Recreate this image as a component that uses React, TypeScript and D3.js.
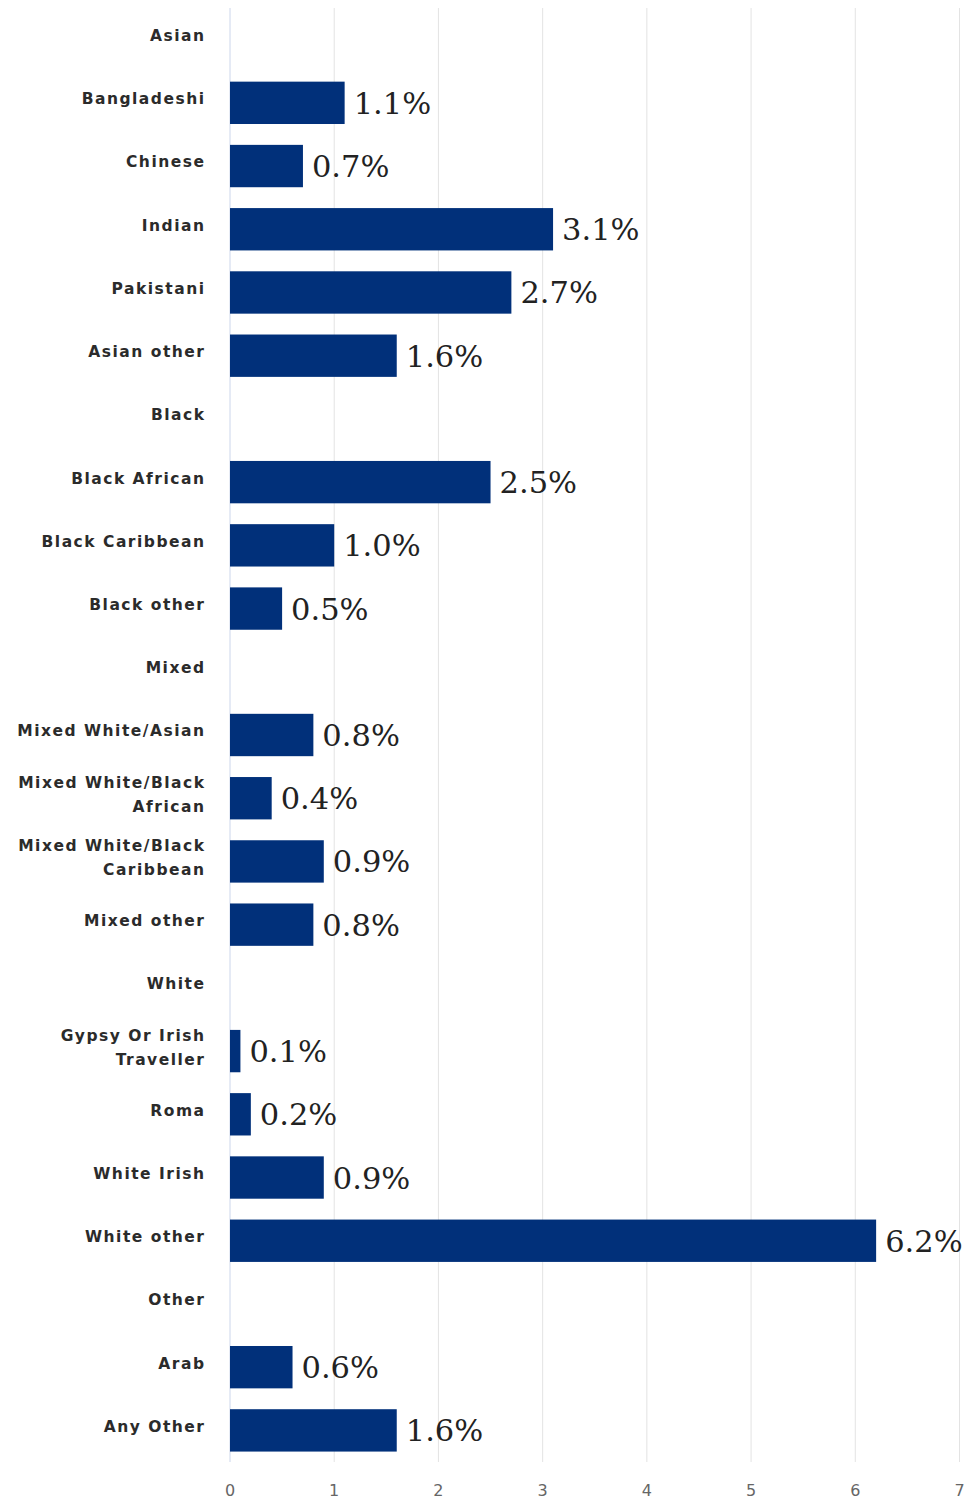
import React from "react";
import * as d3 from "d3";

const categories: string[] = [
  "Asian", "Bangladeshi", "Chinese", "Indian", "Pakistani", "Asian other",
  "Black", "Black African", "Black Caribbean", "Black other",
  "Mixed", "Mixed White/Asian", "Mixed White/Black African", "Mixed White/Black Caribbean", "Mixed other",
  "White", "Gypsy Or Irish Traveller", "Roma", "White Irish", "White other",
  "Other", "Arab", "Any Other",
];
const values: (number | null)[] = [
  null, 1.1, 0.7, 3.1, 2.7, 1.6,
  null, 2.5, 1.0, 0.5,
  null, 0.8, 0.4, 0.9, 0.8,
  null, 0.1, 0.2, 0.9, 6.2,
  null, 0.6, 1.6,
];
const xTicks: number[] = [0, 1, 2, 3, 4, 5, 6, 7];

const W = 965;
const H = 1499;
const left = 230;
const right = 959.5;
const top = 8;
const bottom = 1462;

function wrap(label: string, maxChars = 17): string[] {
  if (label.length <= 18) return [label];
  const words = label.split(" ");
  const lines: string[] = [];
  let cur = "";
  for (const w of words) {
    const next = cur ? cur + " " + w : w;
    if (next.length > maxChars && cur) {
      lines.push(cur);
      cur = w;
    } else cur = next;
  }
  if (cur) lines.push(cur);
  return lines;
}

export default function App() {
  const x = d3.scaleLinear().domain([0, 7]).range([left, right]);
  const y = d3.scaleBand<string>().domain(categories).range([top, bottom]).paddingInner(0.33).paddingOuter(0.165);
  const bw = y.bandwidth();

  return (
    <div style={{ position: "absolute", left: 0, top: 0 }}>
      <svg width={W} height={H} style={{ display: "block", background: "#fff" }}>
        {xTicks.slice(1).map((t) => (
          <line key={"g" + t} x1={x(t)} x2={x(t)} y1={top} y2={bottom} stroke="#e3e3e3" strokeWidth={1} />
        ))}
        <line x1={x(0)} x2={x(0)} y1={top} y2={bottom} stroke="#ccd6eb" strokeWidth={1} />
        {xTicks.map((t) => (
          <text key={"t" + t} x={x(t)} y={1496} textAnchor="middle" fontFamily="DejaVu Sans, sans-serif" fontSize={16} fill="#666">
            {t}
          </text>
        ))}
        {categories.map((c, i) => {
          const cy = (y(c) as number) + bw / 2;
          const lines = wrap(c);
          const lh = 24;
          const startY = cy - 4 - ((lines.length - 1) * lh) / 2;
          const v = values[i];
          return (
            <g key={c}>
              <text textAnchor="end" fontFamily="DejaVu Sans, sans-serif" fontWeight="bold" fontSize={15.5} letterSpacing={1.5} fill="#2b2b2b">
                {lines.map((l, j) => (
                  <tspan key={j} x={205.5} y={startY + j * lh} dy="0.35em">{l}</tspan>
                ))}
              </text>
              {v !== null && (
                <>
                  <rect x={x(0)} y={y(c)} width={x(v) - x(0)} height={bw} fill="#01307a" />
                  <text x={x(v) + 9} y={cy + 11} fontFamily="DejaVu Serif, serif" fontSize={30.5} fill="#222">
                    {v.toFixed(1)}%
                  </text>
                </>
              )}
            </g>
          );
        })}
      </svg>
    </div>
  );
}
